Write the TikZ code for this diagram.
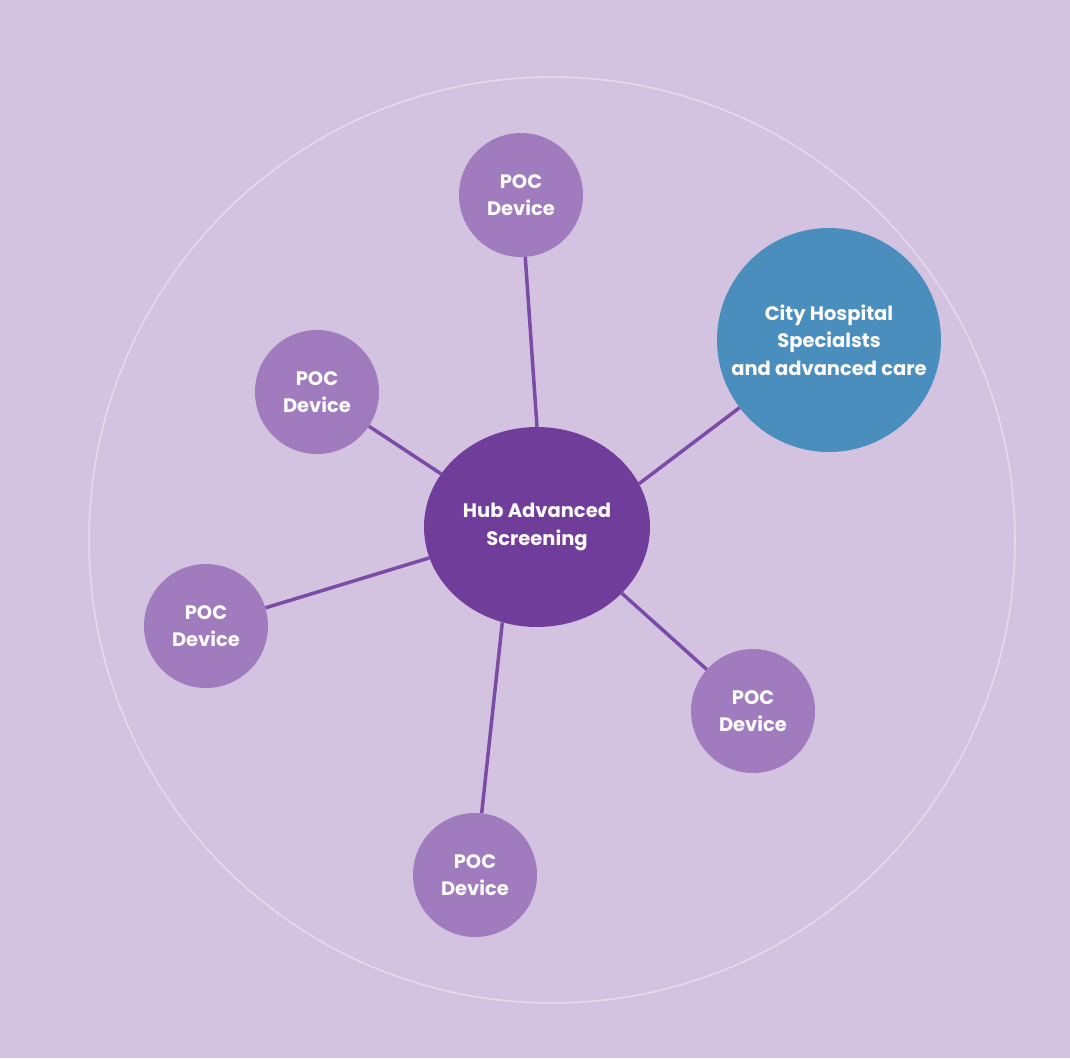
\documentclass[tikz,border=0pt]{standalone}
\usepackage{fontspec}
\setmainfont{Poppins}
\usepackage{xcolor}
\usepackage{tikz}
\usetikzlibrary{shapes.geometric}
\definecolor{latar}{RGB}{212, 195, 224}
\definecolor{ungutua}{RGB}{113, 61, 155}
\definecolor{ungumuda}{RGB}{160, 124, 190}
\definecolor{birukota}{RGB}{74, 142, 190}
\definecolor{garisungu}{RGB}{123, 76, 166}

\begin{document}
\begin{tikzpicture}[
    x=1pt, y=-1pt,
    font=\fontsize{19.5}{27.5}\selectfont\bfseries,
    poc/.style={circle, fill=ungumuda, minimum size=124pt, inner sep=0pt,
                text=white!94!latar, align=center},
    hub/.style={ellipse, fill=ungutua, minimum width=226pt, minimum height=200pt,
                inner sep=0pt, text=white!94!latar, align=center},
    kota/.style={circle, fill=birukota, minimum size=224pt, inner sep=0pt,
                 text=white!94!latar, align=center},
    sambung/.style={garisungu, line width=3.5pt}
  ]
    \useasboundingbox (0,0) rectangle (1070,1058);
    \fill[latar] (0,0) rectangle (1070,1058);
    \draw[latar!60!white, line width=1.5pt] (552,540) circle[radius=463];

    \node[hub] (hub) at (537,527) {Hub Advanced\\Screening};
    \node[kota] (kota) at (829,340) {City Hospital\\Specialsts\\and advanced care};
    \node[poc] (poc1) at (521,195) {POC\\Device};
    \node[poc] (poc2) at (317,392) {POC\\Device};
    \node[poc] (poc3) at (206,626) {POC\\Device};
    \node[poc] (poc4) at (475,875) {POC\\Device};
    \node[poc] (poc5) at (753,711) {POC\\Device};

    \foreach \a/\n in {90/poc1,151/poc2,-164/poc3,-110/poc4,-38/poc5,23/kota}
      \draw[sambung] (hub.\a) -- (\n);
\end{tikzpicture}
\end{document}
